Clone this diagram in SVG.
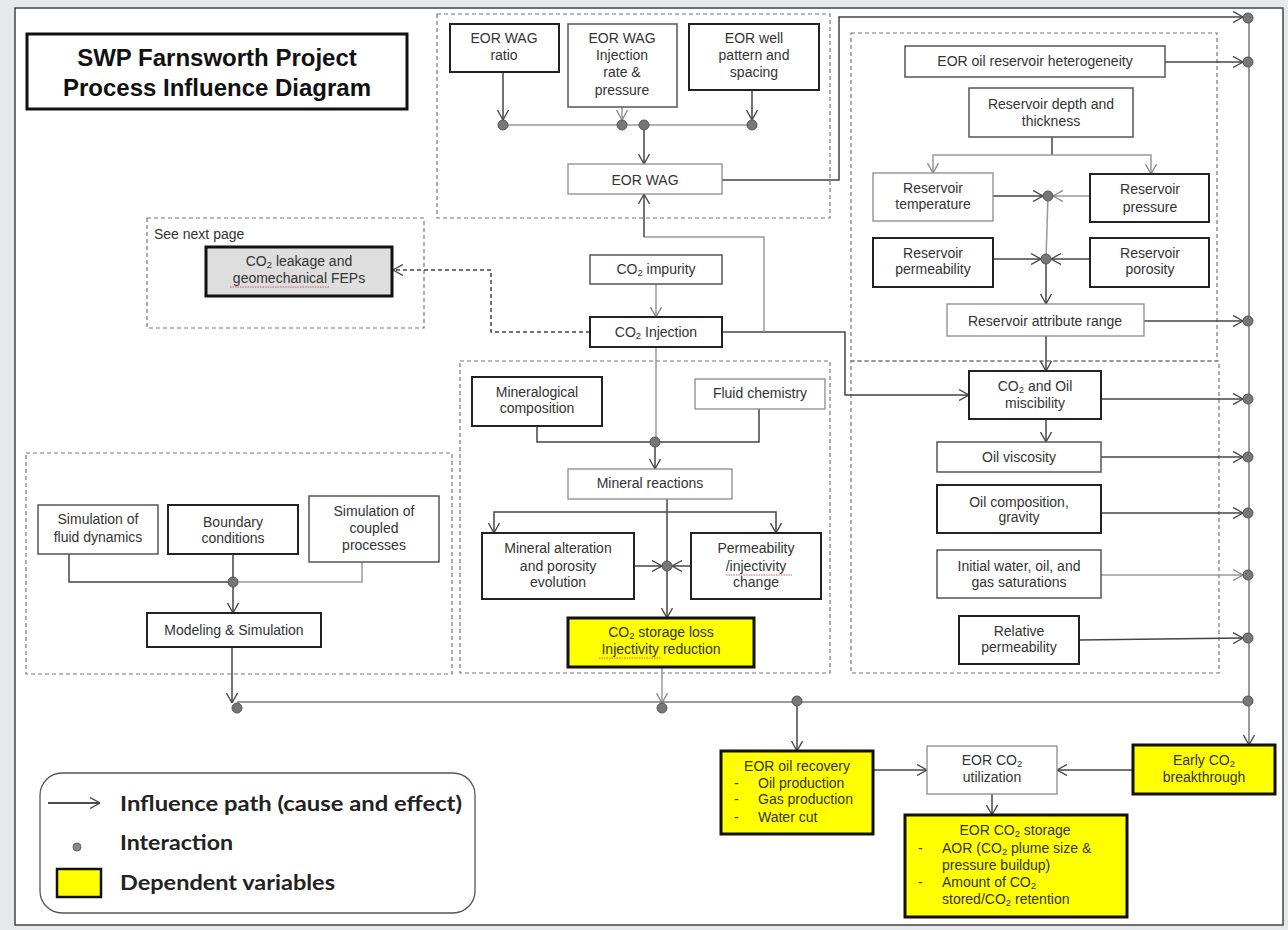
<svg xmlns="http://www.w3.org/2000/svg" width="1288" height="930" viewBox="0 0 1288 930">
<defs>
<style>
.t{font-family:"Liberation Sans",Arial,sans-serif;font-size:14px;fill:#333;text-anchor:middle}
.ts{text-anchor:start}
.bd{fill:#fff;stroke:#222;stroke-width:2}
.bm{fill:#fff;stroke:#555;stroke-width:1.5}
.bl{fill:#fff;stroke:#8a8a8a;stroke-width:1.3}
.by{fill:#ffff00;stroke:#111;stroke-width:3}
.grp{fill:none;stroke:#777;stroke-width:1.2;stroke-dasharray:4 3}
.c{fill:none;stroke:#444;stroke-width:1.5}
.cl{fill:none;stroke:#999;stroke-width:1.5}
.cm{fill:none;stroke:#777;stroke-width:1.5}
.a{marker-end:url(#ah)}
.al{marker-end:url(#ahl)}
.dot{fill:#777;stroke:#555;stroke-width:1}
.sq{fill:none;stroke:#e05050;stroke-width:1;stroke-dasharray:1.5 1}
.lg{font-family:Lato,"Open Sans",sans-serif;font-weight:bold;font-size:21px;fill:#222}
</style>
<marker id="ah" viewBox="0 0 10 12" refX="10" refY="6" markerWidth="10" markerHeight="12" markerUnits="userSpaceOnUse" orient="auto">
<path d="M0,0.5 L10,6 L0,11.5" fill="none" stroke="#444" stroke-width="1.3"/>
</marker>
<marker id="ahl" viewBox="0 0 10 12" refX="10" refY="6" markerWidth="10" markerHeight="12" markerUnits="userSpaceOnUse" orient="auto">
<path d="M0,0.5 L10,6 L0,11.5" fill="none" stroke="#888" stroke-width="1.3"/>
</marker>
</defs>

<rect x="0" y="0" width="1288" height="930" fill="#e7e8eb"/>
<rect x="15" y="8" width="1268" height="917" fill="#fff" stroke="#444" stroke-width="1.5"/>

<g id="title">
<rect x="27" y="34" width="380" height="75" fill="#fff" stroke="#111" stroke-width="3"/>
<text x="217" y="66" font-family="Liberation Sans,Arial,sans-serif" font-weight="bold" font-size="24" fill="#111" text-anchor="middle">SWP Farnsworth Project</text>
<text x="217" y="96" font-family="Liberation Sans,Arial,sans-serif" font-weight="bold" font-size="24" fill="#111" text-anchor="middle">Process Influence Diagram</text>
</g>

<g id="groups">
<rect class="grp" x="437" y="14" width="393" height="204"/>
<rect class="grp" x="147" y="218" width="277" height="110"/>
<rect class="grp" x="851" y="33" width="366" height="328"/>
<rect class="grp" x="851" y="361" width="368" height="312"/>
<rect class="grp" x="460" y="361" width="370" height="312"/>
<rect class="grp" x="26" y="453" width="426" height="221"/>
<text class="t ts" x="154" y="239">See next page</text>
</g>

<g id="connectors">
<path class="c a" d="M503,72 V120"/>
<path class="cl al" d="M622,107 V120"/>
<path class="c a" d="M752,90 V120"/>
<path class="cl" d="M503,125 H752"/>
<path class="c a" d="M644,125 V164"/>
<path class="c a" d="M722,180 H839 V17 H1243"/>
<path class="c a" d="M722,332 H845 V395 H969"/>
<path class="cl" d="M764,332 V237 H644"/>
<path class="c a" d="M644,237 V194"/>
<path class="cl al" d="M656,284 V317"/>
<path class="c a" d="M590,332 H491 V270 H393" stroke-dasharray="4 3"/>
<path class="cl" d="M656,347 V442"/>
<path class="c" d="M537,426 V442 H655"/>
<path class="c" d="M759,409 V442 H655"/>
<path class="c a" d="M655,442 V469"/>
<path class="c a" d="M667,499 V618"/>
<path class="c a" d="M667,512 H494 V533"/>
<path class="c a" d="M667,512 H776 V533"/>
<path class="c a" d="M634,566 H662"/>
<path class="c a" d="M691,566 H672"/>
<path class="cl al" d="M662,667 V703"/>

<path class="c a" d="M1165,62 H1243"/>
<path class="c" d="M1052,137 V155"/>
<path class="cl al" d="M1052,155 H933 V173"/>
<path class="cl al" d="M1052,155 H1151 V174"/>
<path class="c a" d="M993,196 H1043"/>
<path class="cl al" d="M1090,196 H1053"/>
<path class="cl" d="M1048,196 L1046,259"/>
<path class="c a" d="M993,259 H1041"/>
<path class="c a" d="M1090,259 H1051"/>
<path class="c a" d="M1046,259 V304"/>
<path class="c a" d="M1144,321 H1243"/>
<path class="c a" d="M1046,336 V371"/>
<path class="c a" d="M1101,399 H1243"/>
<path class="c a" d="M1046,419 V442"/>
<path class="c a" d="M1101,457 H1243"/>
<path class="c a" d="M1101,513 H1243"/>
<path class="cl al" d="M1101,575 H1243"/>
<path class="c a" d="M1079,640 L1243,638"/>
<path class="cm a" d="M1249,18 V745"/>
<path class="cm" d="M237,702 H1249"/>
<path class="c a" d="M797,701 V751"/>
<path class="c a" d="M873,770 H927"/>
<path class="c a" d="M1133,770 H1057"/>
<path class="c a" d="M992,794 V815"/>

<path class="c" d="M69,554 V582 H233"/>
<path class="c" d="M233,554 V582"/>
<path class="cl" d="M362,562 V582 H233"/>
<path class="c a" d="M233,582 V613"/>
<path class="c a" d="M232,647 V703"/>
</g>

<g id="interactions">
<circle class="dot" cx="503" cy="125" r="5"/>
<circle class="dot" cx="622" cy="125" r="5"/>
<circle class="dot" cx="644" cy="125" r="5"/>
<circle class="dot" cx="752" cy="125" r="5"/>
<circle class="dot" cx="1248" cy="18" r="5"/>
<circle class="dot" cx="1248" cy="62" r="5"/>
<circle class="dot" cx="1048" cy="196" r="5"/>
<circle class="dot" cx="1046" cy="259" r="5"/>
<circle class="dot" cx="1248" cy="321" r="5"/>
<circle class="dot" cx="655" cy="442" r="5"/>
<circle class="dot" cx="667" cy="566" r="5"/>
<circle class="dot" cx="1248" cy="399" r="5"/>
<circle class="dot" cx="1248" cy="457" r="5"/>
<circle class="dot" cx="1248" cy="513" r="5"/>
<circle class="dot" cx="1248" cy="575" r="5"/>
<circle class="dot" cx="1248" cy="638" r="5"/>
<circle class="dot" cx="1248" cy="701" r="5"/>
<circle class="dot" cx="237" cy="708" r="5"/>
<circle class="dot" cx="662" cy="708" r="5"/>
<circle class="dot" cx="797" cy="701" r="5"/>
<circle class="dot" cx="233" cy="582" r="5"/>
</g>

<g id="n-wag-ratio"><rect class="bd" x="450" y="24" width="109" height="48"/>
<text class="t" x="504" y="43">EOR WAG</text><text class="t" x="504" y="60">ratio</text></g>
<g id="n-wag-rate"><rect class="bm" x="568" y="24" width="109" height="83"/>
<text class="t" x="622" y="43">EOR WAG</text><text class="t" x="622" y="60">Injection</text><text class="t" x="622" y="77">rate &amp;</text><text class="t" x="622" y="95">pressure</text></g>
<g id="n-well"><rect class="bd" x="689" y="24" width="130" height="66"/>
<text class="t" x="754" y="43">EOR well</text><text class="t" x="754" y="60">pattern and</text><text class="t" x="754" y="77">spacing</text></g>
<g id="n-wag"><rect class="bl" x="568" y="164" width="154" height="30"/>
<text class="t" x="645" y="185">EOR WAG</text></g>
<g id="n-impurity"><rect class="bm" x="590" y="255" width="132" height="29"/>
<text class="t" x="656" y="274">CO<tspan font-size="9.5" baseline-shift="-2">2</tspan> impurity</text></g>
<g id="n-injection"><rect class="bd" x="590" y="317" width="132" height="30"/>
<text class="t" x="656" y="337">CO<tspan font-size="9.5" baseline-shift="-2">2</tspan> Injection</text></g>
<g id="n-leakage"><rect x="206" y="247" width="186" height="49" fill="#dedede" stroke="#111" stroke-width="3"/>
<text class="t" x="299" y="266">CO<tspan font-size="9.5" baseline-shift="-2">2</tspan> leakage and</text><text class="t" x="299" y="283">geomechanical FEPs</text>
<path class="sq" d="M230,287 H330"/></g>

<g id="n-heterogeneity"><rect class="bm" x="905" y="46" width="260" height="31"/>
<text class="t" x="1035" y="66">EOR oil reservoir heterogeneity</text></g>
<g id="n-depth"><rect class="bm" x="969" y="88" width="164" height="49"/>
<text class="t" x="1051" y="109">Reservoir depth and</text><text class="t" x="1051" y="126">thickness</text></g>
<g id="n-temp"><rect class="bl" x="873" y="173" width="120" height="48"/>
<text class="t" x="933" y="193">Reservoir</text><text class="t" x="933" y="209">temperature</text></g>
<g id="n-pressure"><rect class="bd" x="1090" y="174" width="119" height="48"/>
<text class="t" x="1150" y="194">Reservoir</text><text class="t" x="1150" y="212">pressure</text></g>
<g id="n-perm"><rect class="bd" x="873" y="238" width="120" height="49"/>
<text class="t" x="933" y="258">Reservoir</text><text class="t" x="933" y="274">permeability</text></g>
<g id="n-porosity"><rect class="bd" x="1090" y="238" width="119" height="49"/>
<text class="t" x="1150" y="258">Reservoir</text><text class="t" x="1150" y="274">porosity</text></g>
<g id="n-attr"><rect class="bl" x="947" y="304" width="197" height="32"/>
<text class="t" x="1045" y="326">Reservoir attribute range</text></g>
<g id="n-miscibility"><rect class="bd" x="969" y="371" width="132" height="48"/>
<text class="t" x="1035" y="391">CO<tspan font-size="9.5" baseline-shift="-2">2</tspan> and Oil</text><text class="t" x="1035" y="408">miscibility</text></g>
<g id="n-viscosity"><rect class="bm" x="937" y="442" width="164" height="30"/>
<text class="t" x="1019" y="462">Oil viscosity</text></g>
<g id="n-composition"><rect class="bd" x="937" y="485" width="164" height="48"/>
<text class="t" x="1019" y="507">Oil composition,</text><text class="t" x="1019" y="522">gravity</text></g>
<g id="n-initial"><rect class="bm" x="937" y="550" width="164" height="48"/>
<text class="t" x="1019" y="571">Initial water, oil, and</text><text class="t" x="1019" y="587">gas saturations</text></g>
<g id="n-relperm"><rect class="bd" x="959" y="616" width="120" height="48"/>
<text class="t" x="1019" y="636">Relative</text><text class="t" x="1019" y="652">permeability</text></g>

<g id="n-mineralogical"><rect class="bd" x="472" y="377" width="130" height="49"/>
<text class="t" x="537" y="397">Mineralogical</text><text class="t" x="537" y="413">composition</text></g>
<g id="n-fluid"><rect class="bl" x="695" y="379" width="130" height="30"/>
<text class="t" x="760" y="398">Fluid chemistry</text></g>
<g id="n-reactions"><rect class="bl" x="568" y="469" width="164" height="30"/>
<text class="t" x="650" y="488">Mineral reactions</text></g>
<g id="n-alteration"><rect class="bd" x="482" y="533" width="152" height="66"/>
<text class="t" x="558" y="553">Mineral alteration</text><text class="t" x="558" y="571">and porosity</text><text class="t" x="558" y="587">evolution</text></g>
<g id="n-permchange"><rect class="bd" x="691" y="533" width="130" height="66"/>
<text class="t" x="756" y="553">Permeability</text><text class="t" x="756" y="571">/injectivity</text><text class="t" x="756" y="587">change</text>
<path class="sq" d="M726,575 H792"/></g>
<g id="n-storageloss"><rect class="by" x="568" y="618" width="186" height="49"/>
<text class="t" x="661" y="637">CO<tspan font-size="9.5" baseline-shift="-2">2</tspan> storage loss</text><text class="t" x="661" y="654">Injectivity reduction</text>
<path class="sq" d="M599,658 H661"/></g>

<g id="n-simfluid"><rect class="bm" x="38" y="505" width="120" height="49"/>
<text class="t" x="98" y="524">Simulation of</text><text class="t" x="98" y="542">fluid dynamics</text></g>
<g id="n-boundary"><rect class="bd" x="168" y="505" width="130" height="49"/>
<text class="t" x="233" y="527">Boundary</text><text class="t" x="233" y="543">conditions</text></g>
<g id="n-coupled"><rect class="bm" x="309" y="496" width="130" height="66"/>
<text class="t" x="374" y="516">Simulation of</text><text class="t" x="374" y="533">coupled</text><text class="t" x="374" y="550">processes</text></g>
<g id="n-modeling"><rect class="bd" x="147" y="613" width="174" height="34"/>
<text class="t" x="234" y="635">Modeling &amp; Simulation</text></g>

<g id="n-oilrecovery"><rect class="by" x="721" y="751" width="152" height="83"/>
<text class="t" x="797" y="771">EOR oil recovery</text>
<text class="t ts" x="734" y="788">-</text><text class="t ts" x="758" y="788">Oil production</text>
<text class="t ts" x="734" y="804">-</text><text class="t ts" x="758" y="804">Gas production</text>
<text class="t ts" x="734" y="822">-</text><text class="t ts" x="758" y="822">Water cut</text></g>
<g id="n-utilization"><rect class="bl" x="927" y="746" width="130" height="48"/>
<text class="t" x="992" y="765">EOR CO<tspan font-size="9.5" baseline-shift="-2">2</tspan></text><text class="t" x="992" y="782">utilization</text></g>
<g id="n-early"><rect class="by" x="1133" y="745" width="142" height="49"/>
<text class="t" x="1204" y="765">Early CO<tspan font-size="9.5" baseline-shift="-2">2</tspan></text><text class="t" x="1204" y="782">breakthrough</text></g>
<g id="n-storage"><rect class="by" x="905" y="815" width="222" height="102"/>
<text class="t" x="1015" y="835">EOR CO<tspan font-size="9.5" baseline-shift="-2">2</tspan> storage</text>
<text class="t ts" x="918" y="853">-</text><text class="t ts" x="942" y="853">AOR (CO<tspan font-size="9.5" baseline-shift="-2">2</tspan> plume size &amp;</text>
<text class="t ts" x="942" y="870">pressure buildup)</text>
<text class="t ts" x="918" y="887">-</text><text class="t ts" x="942" y="887">Amount of CO<tspan font-size="9.5" baseline-shift="-2">2</tspan></text>
<text class="t ts" x="942" y="904">stored/CO<tspan font-size="9.5" baseline-shift="-2">2</tspan> retention</text></g>

<g id="legend">
<rect x="40" y="773" width="435" height="140" rx="22" ry="22" fill="#fff" stroke="#555" stroke-width="1.3"/>
<path d="M48,803 H100" fill="none" stroke="#111" stroke-width="1.5" marker-end="url(#ah)"/>
<text class="lg" x="120" y="811" textLength="342" lengthAdjust="spacingAndGlyphs">Influence path (cause and effect)</text>
<circle cx="77" cy="847" r="4" fill="#888" stroke="#666"/>
<text class="lg" x="120" y="850" textLength="113" lengthAdjust="spacingAndGlyphs">Interaction</text>
<rect x="57" y="869" width="44" height="28" fill="#ffff00" stroke="#111" stroke-width="2.5"/>
<text class="lg" x="120" y="890" textLength="215" lengthAdjust="spacingAndGlyphs">Dependent variables</text>
</g>
</svg>
